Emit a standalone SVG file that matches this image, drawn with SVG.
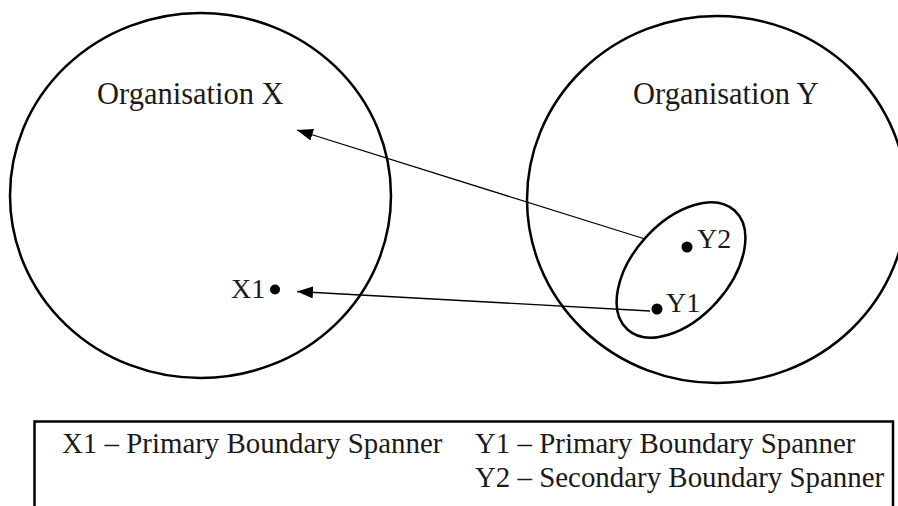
<svg xmlns="http://www.w3.org/2000/svg" width="898" height="506" viewBox="0 0 898 506">
<style>
.org{fill:none;stroke:#000;stroke-width:2.5}
.t{font-family:"Liberation Serif","Times New Roman",serif;font-size:28px;fill:#1a1a1a}
.h{font-size:30.5px}
.l{font-size:28.9px}
.c{stroke:#000;stroke-width:1.3;fill:none;marker-end:url(#ah)}
.dot{fill:#000}
</style>
<defs>
<marker id="ah" viewBox="0 0 16 12" refX="16" refY="6" markerWidth="16" markerHeight="12" markerUnits="userSpaceOnUse" orient="auto">
<path d="M0,0 L16,6 L0,12 Z" fill="#000"/>
</marker>
</defs>
<rect width="898" height="506" fill="#fff"/>
<g id="orgX">
<ellipse class="org" cx="200.5" cy="195.5" rx="190.5" ry="182.5"/>
<text class="t h" x="97" y="104">Organisation X</text>
</g>
<g id="orgY">
<ellipse class="org" cx="717" cy="199.5" rx="190" ry="183.5"/>
<text class="t h" x="633" y="104">Organisation Y</text>
</g>
<g id="group">
<ellipse class="org" cx="681" cy="270" rx="80" ry="48" transform="rotate(-48 681 270)"/>
</g>
<g id="X1">
<circle class="dot" cx="275" cy="289.5" r="5"/>
<text class="t" x="231" y="298">X1</text>
</g>
<g id="Y1">
<circle class="dot" cx="657" cy="309" r="5.5"/>
<text class="t" x="666" y="312">Y1</text>
</g>
<g id="Y2">
<circle class="dot" cx="687" cy="247" r="5.5"/>
<text class="t" x="697" y="248">Y2</text>
</g>
<g id="connectors">
<line class="c" x1="645" y1="239" x2="297" y2="130"/>
<line class="c" x1="650" y1="311" x2="297" y2="291.5"/>
</g>
<g id="legend">
<rect x="34.5" y="421.5" width="858.5" height="100" fill="none" stroke="#000" stroke-width="2.5"/>
<text class="t l" x="62" y="453">X1 – Primary Boundary Spanner</text>
<text class="t l" x="475" y="453">Y1 – Primary Boundary Spanner</text>
<text class="t l" x="475" y="487">Y2 – Secondary Boundary Spanner</text>
</g>
</svg>
